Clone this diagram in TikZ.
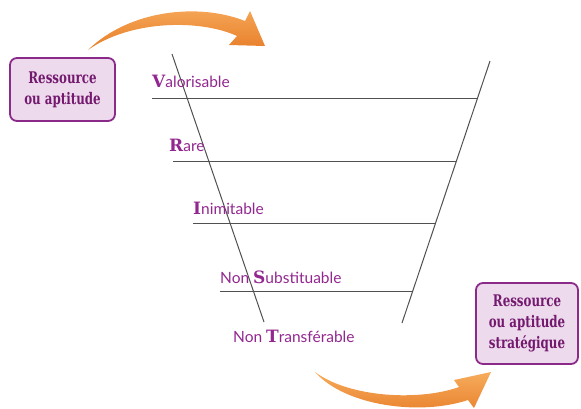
\documentclass[tikz,border=0pt]{standalone}
\usepackage{fontspec}
\setmainfont{Lato}
\newfontfamily\boxfont[FakeStretch=0.74]{DejaVu Serif}
\newfontfamily\inifont{DejaVu Serif}
\definecolor{txtpurple}{RGB}{146,39,143}
\definecolor{boxfill}{RGB}{237,218,237}
\definecolor{boxdraw}{RGB}{140,42,138}
\definecolor{boxtext}{RGB}{115,25,110}
\definecolor{linegray}{RGB}{80,80,80}
\definecolor{orlight}{RGB}{246,172,92}
\definecolor{ordark}{RGB}{232,126,42}
\newcommand\inil[1]{{\inifont\bfseries\fontsize{17}{17}\selectfont #1}}
\begin{document}
\begin{tikzpicture}[x=1pt,y=-1pt,
  rbox/.style={draw=boxdraw, line width=1.8pt, fill=boxfill, rounded corners=7pt,
    align=center, font=\boxfont\bfseries\fontsize{16}{21}\selectfont, text=boxtext,
    inner sep=0pt},
  crit/.style={anchor=base west, inner sep=0pt, text=txtpurple,
    font=\fontsize{15.5}{17}\selectfont},
  rule/.style={draw=linegray, line width=1pt},
  orarrow/.style={top color=orlight, bottom color=ordark, draw=none}]
\useasboundingbox (0,0) rectangle (581,408);

% boxes
\node[rbox, minimum width=105pt, minimum height=63pt] (src) at (62.5,89.5)
  {Ressource\\ou aptitude};
\node[rbox, minimum width=102pt, minimum height=81pt] (dst) at (527,323.5)
  {Ressource\\ou aptitude\\stratégique};

% funnel sides
\coordinate (L1) at (172,54);
\coordinate (L2) at (264,322);
\coordinate (R1) at (490,61);
\coordinate (R2) at (402,323);
\draw[rule] (L1) -- (L2);
\draw[rule] (R1) -- (R2);

% horizontal rules
\coordinate (h1a) at (152,98);  \coordinate (h1b) at (477.6,98);
\coordinate (h2a) at (173,161); \coordinate (h2b) at (456.4,161);
\coordinate (h3a) at (193,223); \coordinate (h3b) at (435.6,223);
\coordinate (h4a) at (220,291); \coordinate (h4b) at (412.7,291);
\draw[rule] (h1a) -- (h1b);
\draw[rule] (h2a) -- (h2b);
\draw[rule] (h3a) -- (h3b);
\draw[rule] (h4a) -- (h4b);

% labels
\node[crit] (c1) at (152,87) {\inil{V}alorisable};
\node[crit] (c2) at (169,151) {\inil{R}are};
\node[crit] (c3) at (193,214) {\inil{I}nimitable};
\node[crit] (c4) at (220,283) {Non \inil{S}ubstituable};
\node[crit] (c5) at (233,342) {Non \inil{T}ransférable};

% orange arrows
\shade[orarrow] (88,50) .. controls (130,9) and (200,3) .. (245,21)
  -- (250,11) -- (265,46) -- (229,45) -- (237,36)
  .. controls (200,19) and (130,20) .. (88,50) -- cycle;
\shade[orarrow] (315,372) .. controls (350,398) and (420,401) .. (459,387)
  -- (454,380) -- (491,372) -- (474,408) -- (468,400)
  .. controls (420,416) and (345,406) .. (315,372) -- cycle;
\end{tikzpicture}
\end{document}
